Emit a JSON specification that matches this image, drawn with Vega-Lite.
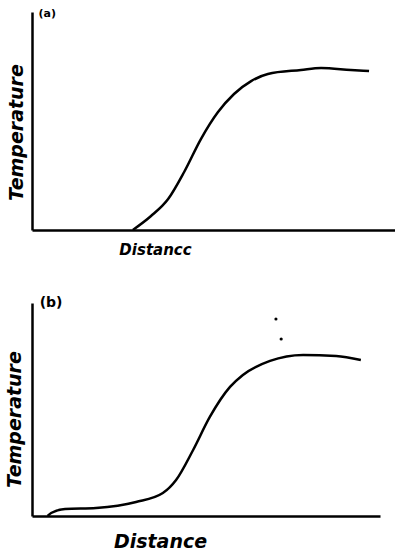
{
  "$schema": "https://vega.github.io/schema/vega-lite/v6.json",
  "padding": {"left": 5, "top": 8, "right": 0, "bottom": 0},
  "spacing": 39,
  "background": "white",
  "config": {
    "view": {"stroke": null},
    "axis": {"labels": false, "ticks": false, "grid": false, "domainColor": "black", "domainWidth": 2.5, "titleColor": "black", "titleFont": "DejaVu Sans", "titleFontStyle": "italic", "titleFontWeight": "bold"}
  },
  "datasets": {
    "a": [
      {"d": 27.7, "t": 0},
      {"d": 32.7, "t": 6.4},
      {"d": 37.4, "t": 14.2},
      {"d": 41.8, "t": 26.6},
      {"d": 46.4, "t": 41.7},
      {"d": 51.1, "t": 54.1},
      {"d": 55.5, "t": 62.4},
      {"d": 60.2, "t": 68.3},
      {"d": 64.8, "t": 71.6},
      {"d": 73.9, "t": 73.4},
      {"d": 79.4, "t": 74.3},
      {"d": 87.6, "t": 73.4},
      {"d": 92.6, "t": 72.9}
    ],
    "b": [
      {"d": 4.5, "t": 0},
      {"d": 5.5, "t": 1.4},
      {"d": 9.5, "t": 3.3},
      {"d": 18.4, "t": 3.8},
      {"d": 29.9, "t": 6.6},
      {"d": 37.6, "t": 10.8},
      {"d": 41.4, "t": 16.9},
      {"d": 46.3, "t": 31.0},
      {"d": 51.1, "t": 46.5},
      {"d": 56.9, "t": 60.6},
      {"d": 60.6, "t": 66.2},
      {"d": 68.4, "t": 72.8},
      {"d": 77.9, "t": 75.6},
      {"d": 87.4, "t": 75.1},
      {"d": 94.5, "t": 73.2}
    ],
    "bdots": [
      {"d": 70.1, "t": 92.5},
      {"d": 71.6, "t": 83.1}
    ]
  },
  "vconcat": [
    {
      "width": 364,
      "height": 218,
      "layer": [
        {
          "data": {"name": "a"},
          "mark": {"type": "line", "color": "black", "strokeWidth": 2.5, "interpolate": "monotone"},
          "encoding": {
            "x": {"field": "d", "type": "quantitative", "scale": {"domain": [0, 100], "nice": false}, "axis": {"title": "Distancc", "titleFontSize": 15, "titlePadding": 12, "titleX": 123, "titleAnchor": "middle"}},
            "y": {"field": "t", "type": "quantitative", "scale": {"domain": [0, 100], "nice": false}, "axis": {"title": "Temperature", "titleFontSize": 19, "titlePadding": 6, "titleY": 120}}
          }
        },
        {
          "data": {"values": [{"label": "(a)"}]},
          "mark": {"type": "text", "align": "left", "baseline": "middle", "fontSize": 11, "fontWeight": "bold", "font": "DejaVu Sans", "color": "black"},
          "encoding": {"x": {"datum": 1.8}, "y": {"datum": 99}, "text": {"field": "label"}}
        }
      ]
    },
    {
      "width": 348,
      "height": 213,
      "layer": [
        {
          "data": {"name": "b"},
          "mark": {"type": "line", "color": "black", "strokeWidth": 2.5, "interpolate": "monotone"},
          "encoding": {
            "x": {"field": "d", "type": "quantitative", "scale": {"domain": [0, 100], "nice": false}, "axis": {"title": "Distance", "titleFontSize": 19, "titlePadding": 16, "titleX": 128, "titleAnchor": "middle"}},
            "y": {"field": "t", "type": "quantitative", "scale": {"domain": [0, 100], "nice": false}, "axis": {"title": "Temperature", "titleFontSize": 19, "titlePadding": 8, "titleY": 116}}
          }
        },
        {
          "data": {"name": "bdots"},
          "mark": {"type": "circle", "color": "black", "size": 10, "opacity": 1},
          "encoding": {
            "x": {"field": "d", "type": "quantitative"},
            "y": {"field": "t", "type": "quantitative"}
          }
        },
        {
          "data": {"values": [{"label": "(b)"}]},
          "mark": {"type": "text", "align": "left", "baseline": "middle", "fontSize": 14, "fontWeight": "bold", "font": "DejaVu Sans", "color": "black"},
          "encoding": {"x": {"datum": 2.2}, "y": {"datum": 100}, "text": {"field": "label"}}
        }
      ]
    }
  ]
}
